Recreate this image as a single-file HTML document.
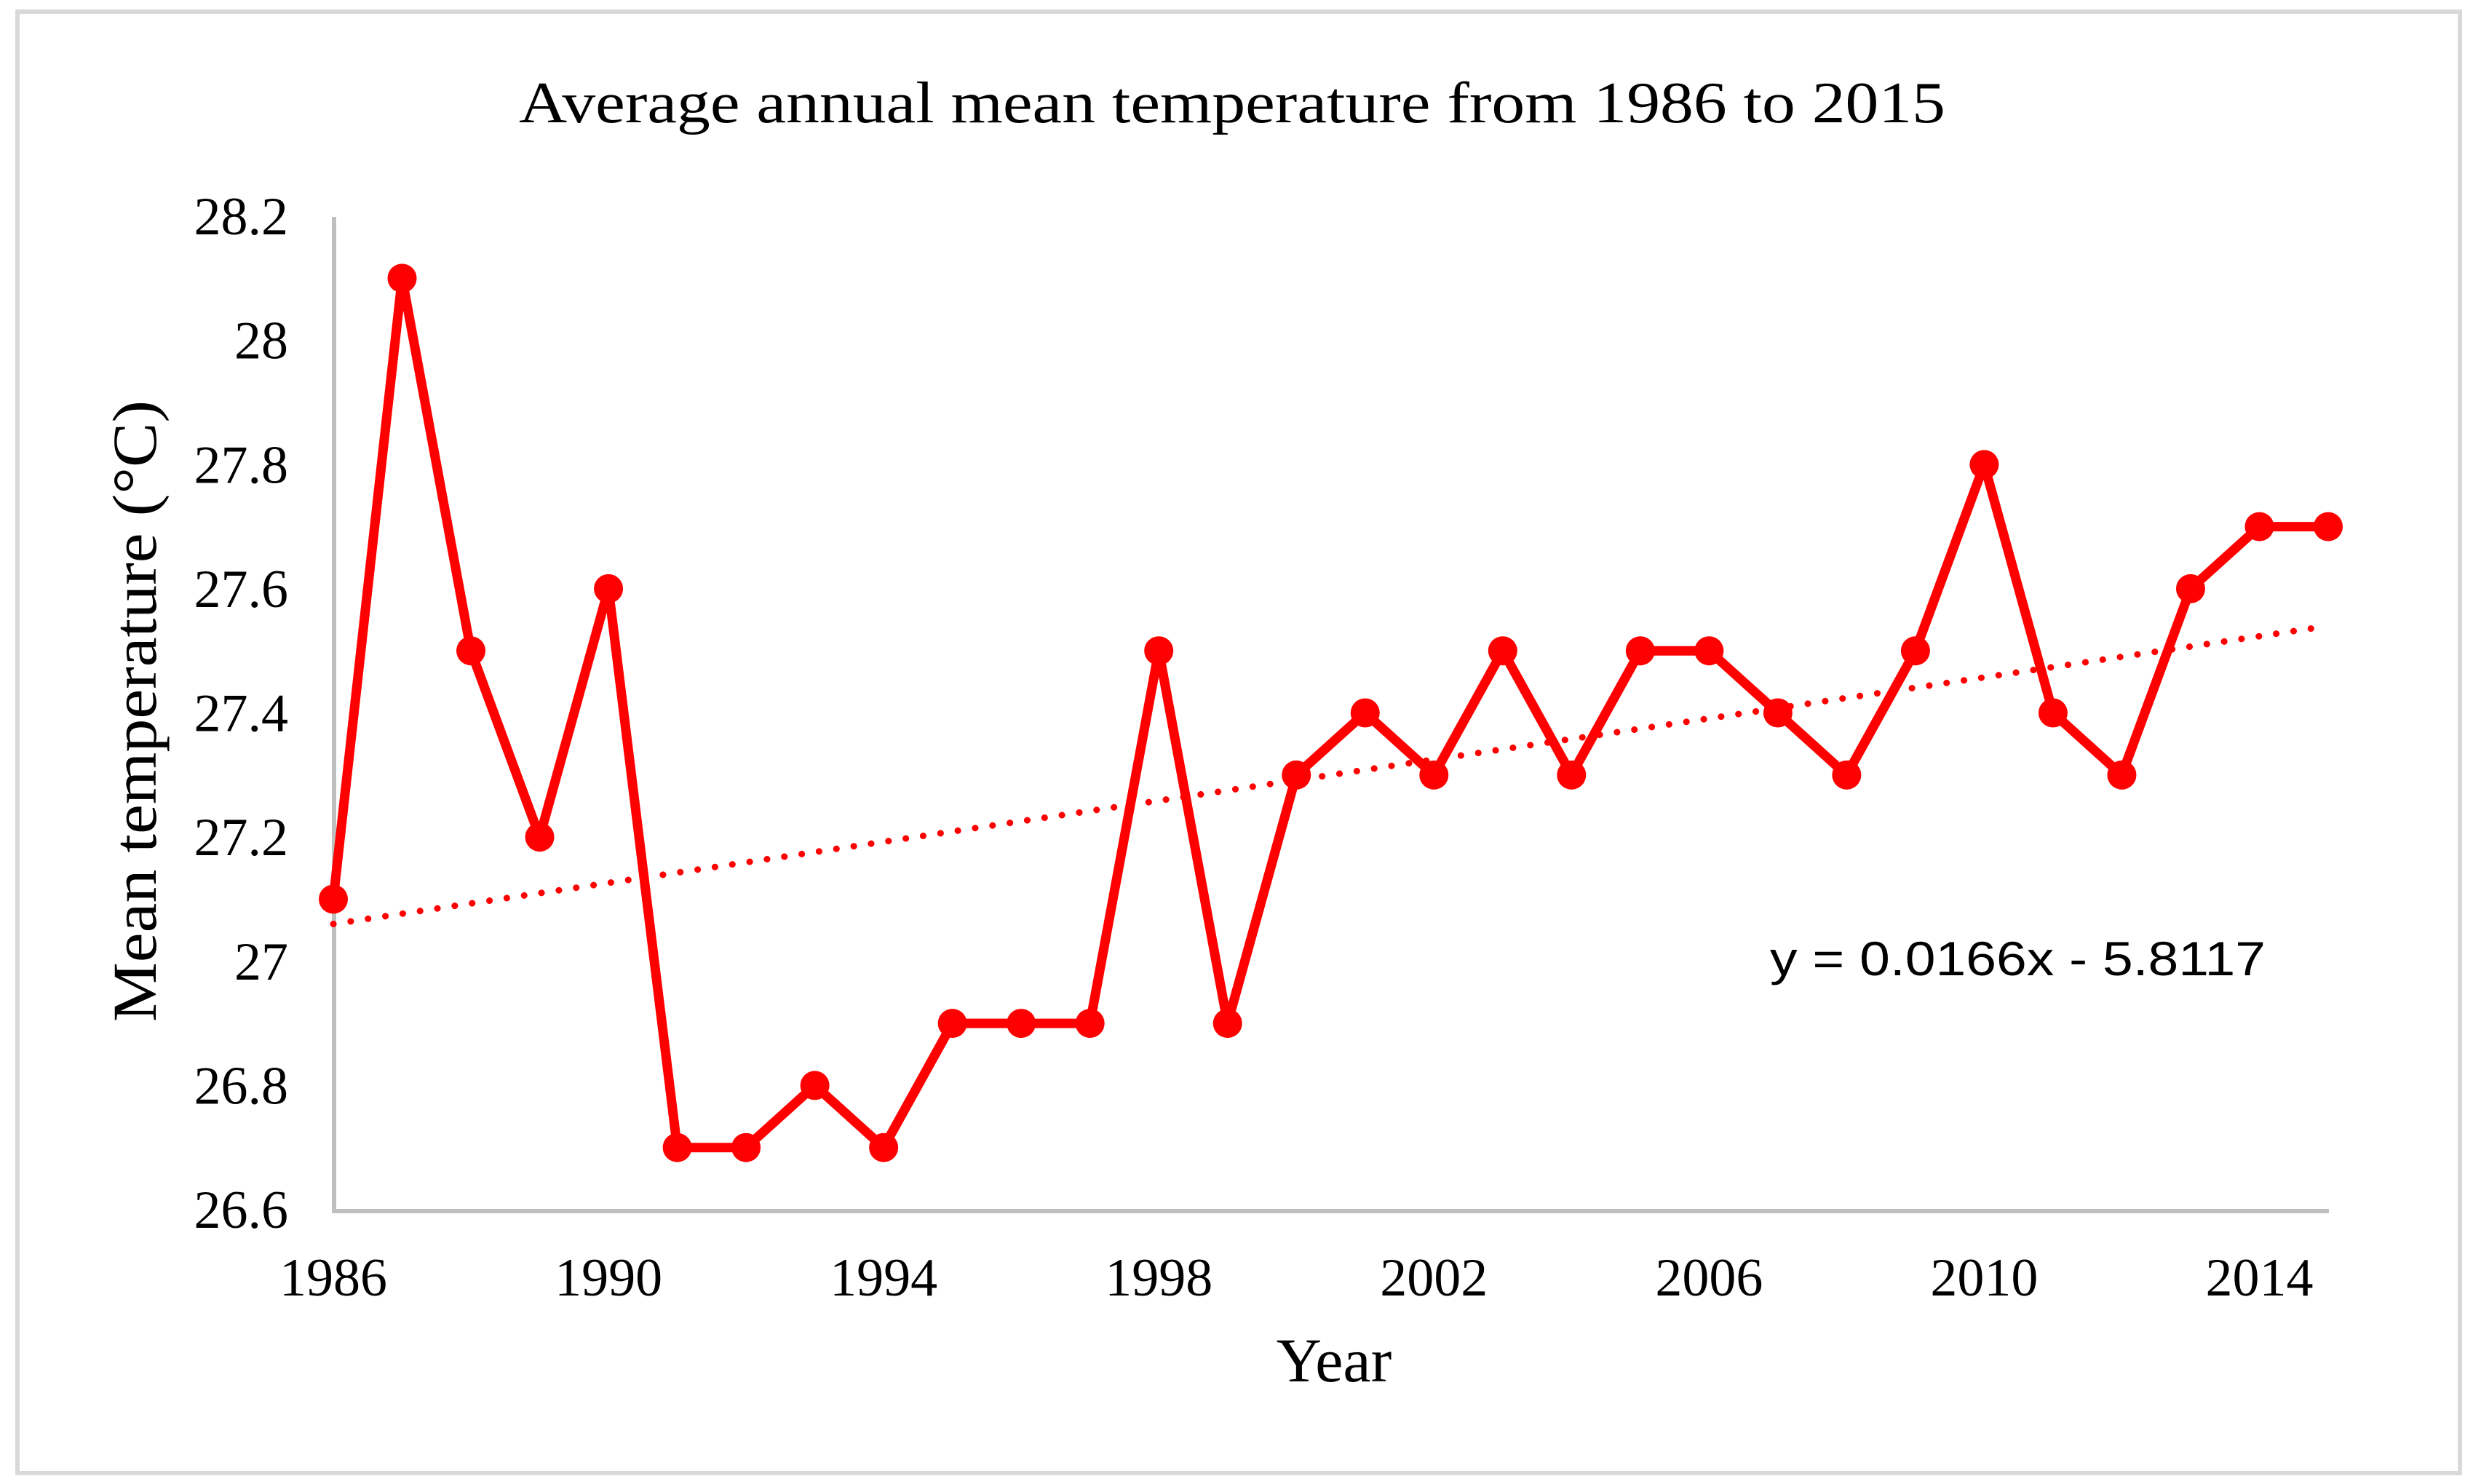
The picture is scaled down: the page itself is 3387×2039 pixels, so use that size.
<!DOCTYPE html>
<html><head><meta charset="utf-8"><style>html,body{margin:0;padding:0;background:#fff}svg{display:block}</style></head>
<body>
<svg id="chart" width="3387" height="2039" viewBox="0 0 3387 2039" xmlns="http://www.w3.org/2000/svg">
<rect x="24" y="16" width="3356" height="2008" fill="#fff" stroke="#d9d9d9" stroke-width="6"/>
<text x="1693" y="168" text-anchor="middle" font-family="Liberation Serif, serif" font-size="80" textLength="1960" lengthAdjust="spacingAndGlyphs">Average annual mean temperature from 1986 to 2015</text>
<line x1="459" y1="298" x2="459" y2="1664" stroke="#bfbfbf" stroke-width="6"/>
<line x1="456" y1="1664" x2="3200" y2="1664" stroke="#bfbfbf" stroke-width="6"/>
<g id="yticks"></g><g id="xticks"></g>
<text x="1833" y="1898" text-anchor="middle" font-family="Liberation Serif, serif" font-size="86">Year</text>
<text transform="translate(214,977) rotate(-90)" text-anchor="middle" font-family="Liberation Serif, serif" font-size="86" textLength="854" lengthAdjust="spacingAndGlyphs">Mean temperature (°C)</text>
<g id="trend"></g><g id="series"></g>
<text x="2432" y="1340" font-family="Liberation Sans, sans-serif" font-size="66" textLength="681" lengthAdjust="spacingAndGlyphs">y = 0.0166x - 5.8117</text>
</svg>
<script>
const years = [1986,1987,1988,1989,1990,1991,1992,1993,1994,1995,1996,1997,1998,1999,2000,2001,2002,2003,2004,2005,2006,2007,2008,2009,2010,2011,2012,2013,2014,2015];
const temps = [27.1,28.1,27.5,27.2,27.6,26.7,26.7,26.8,26.7,26.9,26.9,26.9,27.5,26.9,27.3,27.4,27.3,27.5,27.3,27.5,27.5,27.4,27.3,27.5,27.8,27.4,27.3,27.6,27.7,27.7];
const yTicks = [26.6,26.8,27,27.2,27.4,27.6,27.8,28,28.2];
const xTickLabels = [1986,1990,1994,1998,2002,2006,2010,2014];
const NS='http://www.w3.org/2000/svg';
const X0=458, X1=3199, Y0=1662, Y1=297, VMIN=26.6, VMAX=28.2;
function xs(yr){return X0+(yr-years[0])*(X1-X0)/(years[years.length-1]-years[0]);}
function ys(v){return Y0-(v-VMIN)*(Y0-Y1)/(VMAX-VMIN);}
function mk(tag,attrs,parent){const e=document.createElementNS(NS,tag);for(const k in attrs)e.setAttribute(k,attrs[k]);parent.appendChild(e);return e;}
const yg=document.getElementById('yticks');
yTicks.forEach(v=>{const t=mk('text',{x:396,y:ys(v)+25,'text-anchor':'end','font-family':'Liberation Serif, serif','font-size':'74'},yg);


t.textContent=String(v);});
const xg=document.getElementById('xticks');
xTickLabels.forEach(v=>{const t=mk('text',{x:xs(v),y:1780,'text-anchor':'middle','font-family':'Liberation Serif, serif','font-size':'74'},xg);


t.textContent=String(v);});
const n=years.length;let sx=0,sy=0,sxy=0,sxx=0;
years.forEach((x,i)=>{sx+=x;sy+=temps[i];sxy+=x*temps[i];sxx+=x*x;});
const b=(n*sxy-sx*sy)/(n*sxx-sx*sx), a=(sy-b*sx)/n;
const tl=mk('line',{x1:xs(years[0]),y1:ys(a+b*years[0]),x2:xs(years[n-1]),y2:ys(a+b*years[n-1]),stroke:'#ff0000','stroke-width':'9','stroke-dasharray':'0.1 24','stroke-linecap':'round'},document.getElementById('trend'));


const sg=document.getElementById('series');
const pl=mk('polyline',{points:years.map((y,i)=>xs(y)+','+ys(temps[i])).join(' '),fill:'none',stroke:'#ff0000','stroke-width':'13','stroke-linejoin':'round'},sg);


years.forEach((y,i)=>{const c=mk('circle',{cx:xs(y),cy:ys(temps[i]),r:20,fill:'#ff0000'},sg);

});
</script>
</body></html>
